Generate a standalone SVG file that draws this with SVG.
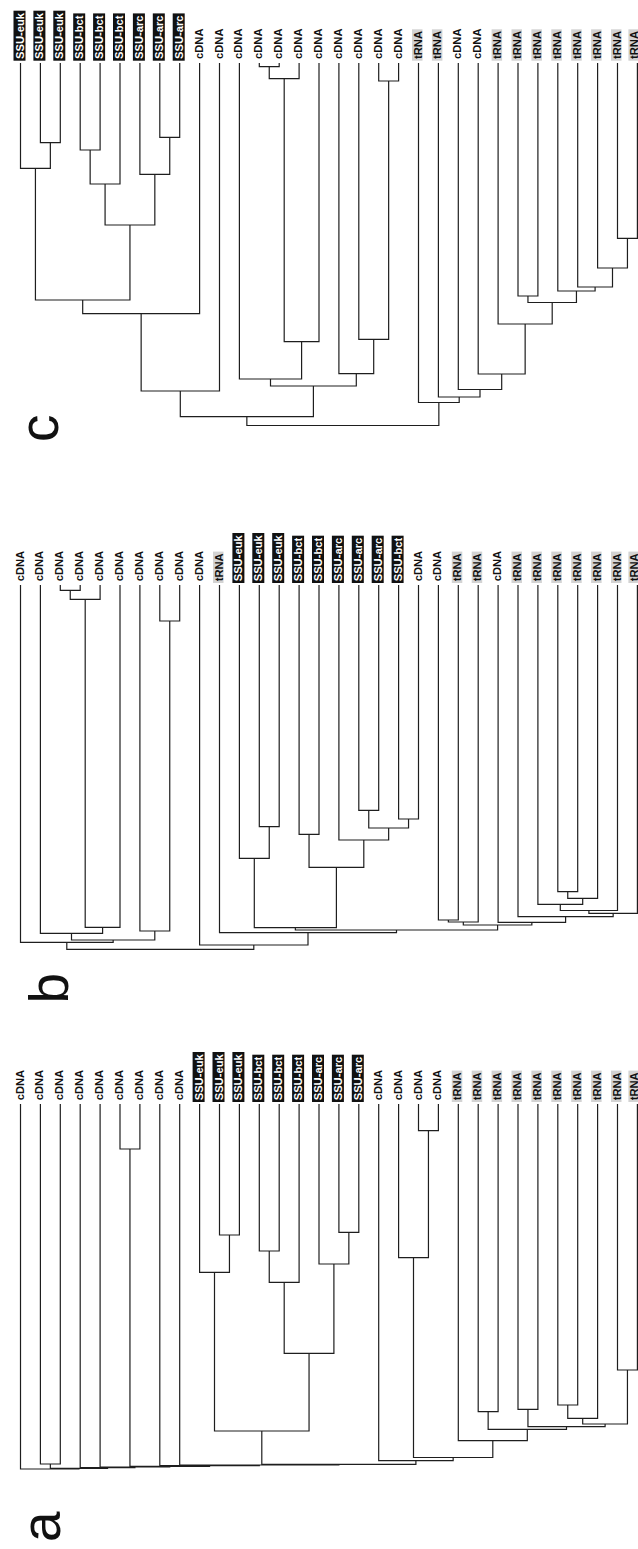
<svg xmlns="http://www.w3.org/2000/svg" width="638" height="1549" viewBox="0 0 638 1549">
<style>
.t{font-family:"Liberation Sans",Arial,sans-serif;font-weight:bold;font-size:11.2px;fill:#111}
.tw{font-family:"Liberation Sans",Arial,sans-serif;font-weight:bold;font-size:11.2px;fill:#fff}
.bk{fill:#111}
.gy{fill:#d3d3d3}
.e{fill:none;stroke:#1e1e1e;stroke-width:1.2}
.pl{font-family:"Liberation Sans",Arial,sans-serif;font-size:55px;fill:#111}
</style>
<rect width="638" height="1549" fill="#fff"/>
<!-- Panel c -->
<g id="panel-c">
<g id="c-n1" transform="translate(23.5 59) rotate(-90)"><rect class="bk" x="-1.7" y="-10" width="50" height="12"/><text class="tw">SSU-euk</text></g>
<g id="c-n2" transform="translate(43.4 59) rotate(-90)"><rect class="bk" x="-1.7" y="-10" width="50" height="12"/><text class="tw">SSU-euk</text></g>
<g id="c-n3" transform="translate(63.3 59) rotate(-90)"><rect class="bk" x="-1.7" y="-10" width="50" height="12"/><text class="tw">SSU-euk</text></g>
<g id="c-n4" transform="translate(83.2 59) rotate(-90)"><rect class="bk" x="-1.7" y="-10" width="47.3" height="12"/><text class="tw">SSU-bct</text></g>
<g id="c-n5" transform="translate(103.1 59) rotate(-90)"><rect class="bk" x="-1.7" y="-10" width="47.3" height="12"/><text class="tw">SSU-bct</text></g>
<g id="c-n6" transform="translate(123 59) rotate(-90)"><rect class="bk" x="-1.7" y="-10" width="47.3" height="12"/><text class="tw">SSU-bct</text></g>
<g id="c-n7" transform="translate(142.9 59) rotate(-90)"><rect class="bk" x="-1.7" y="-10" width="47.3" height="12"/><text class="tw">SSU-arc</text></g>
<g id="c-n8" transform="translate(162.8 59) rotate(-90)"><rect class="bk" x="-1.7" y="-10" width="47.3" height="12"/><text class="tw">SSU-arc</text></g>
<g id="c-n9" transform="translate(182.7 59) rotate(-90)"><rect class="bk" x="-1.7" y="-10" width="47.3" height="12"/><text class="tw">SSU-arc</text></g>
<g id="c-n10" transform="translate(202.6 59) rotate(-90)"><text class="t">cDNA</text></g>
<g id="c-n11" transform="translate(222.5 59) rotate(-90)"><text class="t">cDNA</text></g>
<g id="c-n12" transform="translate(242.4 59) rotate(-90)"><text class="t">cDNA</text></g>
<g id="c-n13" transform="translate(262.3 59) rotate(-90)"><text class="t">cDNA</text></g>
<g id="c-n14" transform="translate(282.2 59) rotate(-90)"><text class="t">cDNA</text></g>
<g id="c-n15" transform="translate(302.1 59) rotate(-90)"><text class="t">cDNA</text></g>
<g id="c-n16" transform="translate(322 59) rotate(-90)"><text class="t">cDNA</text></g>
<g id="c-n17" transform="translate(341.9 59) rotate(-90)"><text class="t">cDNA</text></g>
<g id="c-n18" transform="translate(361.8 59) rotate(-90)"><text class="t">cDNA</text></g>
<g id="c-n19" transform="translate(381.7 59) rotate(-90)"><text class="t">cDNA</text></g>
<g id="c-n20" transform="translate(401.6 59) rotate(-90)"><text class="t">cDNA</text></g>
<g id="c-n21" transform="translate(421.5 59) rotate(-90)"><rect class="gy" x="-1.7" y="-9.5" width="31.4" height="10.5"/><text class="t">tRNA</text></g>
<g id="c-n22" transform="translate(441.4 59) rotate(-90)"><rect class="gy" x="-1.7" y="-9.5" width="31.4" height="10.5"/><text class="t">tRNA</text></g>
<g id="c-n23" transform="translate(461.3 59) rotate(-90)"><text class="t">cDNA</text></g>
<g id="c-n24" transform="translate(481.2 59) rotate(-90)"><text class="t">cDNA</text></g>
<g id="c-n25" transform="translate(501.1 59) rotate(-90)"><rect class="gy" x="-1.7" y="-9.5" width="31.4" height="10.5"/><text class="t">tRNA</text></g>
<g id="c-n26" transform="translate(521 59) rotate(-90)"><rect class="gy" x="-1.7" y="-9.5" width="31.4" height="10.5"/><text class="t">tRNA</text></g>
<g id="c-n27" transform="translate(540.9 59) rotate(-90)"><rect class="gy" x="-1.7" y="-9.5" width="31.4" height="10.5"/><text class="t">tRNA</text></g>
<g id="c-n28" transform="translate(560.8 59) rotate(-90)"><rect class="gy" x="-1.7" y="-9.5" width="31.4" height="10.5"/><text class="t">tRNA</text></g>
<g id="c-n29" transform="translate(580.7 59) rotate(-90)"><rect class="gy" x="-1.7" y="-9.5" width="31.4" height="10.5"/><text class="t">tRNA</text></g>
<g id="c-n30" transform="translate(600.6 59) rotate(-90)"><rect class="gy" x="-1.7" y="-9.5" width="31.4" height="10.5"/><text class="t">tRNA</text></g>
<g id="c-n31" transform="translate(620.5 59) rotate(-90)"><rect class="gy" x="-1.7" y="-9.5" width="31.4" height="10.5"/><text class="t">tRNA</text></g>
<g id="c-n32" transform="translate(637.9 59) rotate(-90)"><rect class="gy" x="-1.7" y="-9.5" width="31.4" height="10.5"/><text class="t">tRNA</text></g>
<text id="c-letter" class="pl" transform="translate(58 442) rotate(-90)">c</text>
</g>
<!-- Panel b -->
<g id="panel-b">
<g id="b-n1" transform="translate(23.5 581.3) rotate(-90)"><text class="t">cDNA</text></g>
<g id="b-n2" transform="translate(43.4 581.3) rotate(-90)"><text class="t">cDNA</text></g>
<g id="b-n3" transform="translate(63.3 581.3) rotate(-90)"><text class="t">cDNA</text></g>
<g id="b-n4" transform="translate(83.2 581.3) rotate(-90)"><text class="t">cDNA</text></g>
<g id="b-n5" transform="translate(103.1 581.3) rotate(-90)"><text class="t">cDNA</text></g>
<g id="b-n6" transform="translate(123 581.3) rotate(-90)"><text class="t">cDNA</text></g>
<g id="b-n7" transform="translate(142.9 581.3) rotate(-90)"><text class="t">cDNA</text></g>
<g id="b-n8" transform="translate(162.8 581.3) rotate(-90)"><text class="t">cDNA</text></g>
<g id="b-n9" transform="translate(182.7 581.3) rotate(-90)"><text class="t">cDNA</text></g>
<g id="b-n10" transform="translate(202.6 581.3) rotate(-90)"><text class="t">cDNA</text></g>
<g id="b-n11" transform="translate(222.5 581.3) rotate(-90)"><rect class="gy" x="-1.7" y="-9.5" width="31.4" height="10.5"/><text class="t">tRNA</text></g>
<g id="b-n12" transform="translate(242.4 581.3) rotate(-90)"><rect class="bk" x="-1.7" y="-10" width="50" height="12"/><text class="tw">SSU-euk</text></g>
<g id="b-n13" transform="translate(262.3 581.3) rotate(-90)"><rect class="bk" x="-1.7" y="-10" width="50" height="12"/><text class="tw">SSU-euk</text></g>
<g id="b-n14" transform="translate(282.2 581.3) rotate(-90)"><rect class="bk" x="-1.7" y="-10" width="50" height="12"/><text class="tw">SSU-euk</text></g>
<g id="b-n15" transform="translate(302.1 581.3) rotate(-90)"><rect class="bk" x="-1.7" y="-10" width="47.3" height="12"/><text class="tw">SSU-bct</text></g>
<g id="b-n16" transform="translate(322 581.3) rotate(-90)"><rect class="bk" x="-1.7" y="-10" width="47.3" height="12"/><text class="tw">SSU-bct</text></g>
<g id="b-n17" transform="translate(341.9 581.3) rotate(-90)"><rect class="bk" x="-1.7" y="-10" width="47.3" height="12"/><text class="tw">SSU-arc</text></g>
<g id="b-n18" transform="translate(361.8 581.3) rotate(-90)"><rect class="bk" x="-1.7" y="-10" width="47.3" height="12"/><text class="tw">SSU-arc</text></g>
<g id="b-n19" transform="translate(381.7 581.3) rotate(-90)"><rect class="bk" x="-1.7" y="-10" width="47.3" height="12"/><text class="tw">SSU-arc</text></g>
<g id="b-n20" transform="translate(401.6 581.3) rotate(-90)"><rect class="bk" x="-1.7" y="-10" width="47.3" height="12"/><text class="tw">SSU-bct</text></g>
<g id="b-n21" transform="translate(421.5 581.3) rotate(-90)"><text class="t">cDNA</text></g>
<g id="b-n22" transform="translate(441.4 581.3) rotate(-90)"><text class="t">cDNA</text></g>
<g id="b-n23" transform="translate(461.3 581.3) rotate(-90)"><rect class="gy" x="-1.7" y="-9.5" width="31.4" height="10.5"/><text class="t">tRNA</text></g>
<g id="b-n24" transform="translate(481.2 581.3) rotate(-90)"><rect class="gy" x="-1.7" y="-9.5" width="31.4" height="10.5"/><text class="t">tRNA</text></g>
<g id="b-n25" transform="translate(501.1 581.3) rotate(-90)"><text class="t">cDNA</text></g>
<g id="b-n26" transform="translate(521 581.3) rotate(-90)"><rect class="gy" x="-1.7" y="-9.5" width="31.4" height="10.5"/><text class="t">tRNA</text></g>
<g id="b-n27" transform="translate(540.9 581.3) rotate(-90)"><rect class="gy" x="-1.7" y="-9.5" width="31.4" height="10.5"/><text class="t">tRNA</text></g>
<g id="b-n28" transform="translate(560.8 581.3) rotate(-90)"><rect class="gy" x="-1.7" y="-9.5" width="31.4" height="10.5"/><text class="t">tRNA</text></g>
<g id="b-n29" transform="translate(580.7 581.3) rotate(-90)"><rect class="gy" x="-1.7" y="-9.5" width="31.4" height="10.5"/><text class="t">tRNA</text></g>
<g id="b-n30" transform="translate(600.6 581.3) rotate(-90)"><rect class="gy" x="-1.7" y="-9.5" width="31.4" height="10.5"/><text class="t">tRNA</text></g>
<g id="b-n31" transform="translate(620.5 581.3) rotate(-90)"><rect class="gy" x="-1.7" y="-9.5" width="31.4" height="10.5"/><text class="t">tRNA</text></g>
<g id="b-n32" transform="translate(637.9 581.3) rotate(-90)"><rect class="gy" x="-1.7" y="-9.5" width="31.4" height="10.5"/><text class="t">tRNA</text></g>
<text id="b-letter" class="pl" transform="translate(68 1003.5) rotate(-90)">b</text>
</g>
<!-- Panel a -->
<g id="panel-a">
<g id="a-n1" transform="translate(23.5 1100.3) rotate(-90)"><text class="t">cDNA</text></g>
<g id="a-n2" transform="translate(43.4 1100.3) rotate(-90)"><text class="t">cDNA</text></g>
<g id="a-n3" transform="translate(63.3 1100.3) rotate(-90)"><text class="t">cDNA</text></g>
<g id="a-n4" transform="translate(83.2 1100.3) rotate(-90)"><text class="t">cDNA</text></g>
<g id="a-n5" transform="translate(103.1 1100.3) rotate(-90)"><text class="t">cDNA</text></g>
<g id="a-n6" transform="translate(123 1100.3) rotate(-90)"><text class="t">cDNA</text></g>
<g id="a-n7" transform="translate(142.9 1100.3) rotate(-90)"><text class="t">cDNA</text></g>
<g id="a-n8" transform="translate(162.8 1100.3) rotate(-90)"><text class="t">cDNA</text></g>
<g id="a-n9" transform="translate(182.7 1100.3) rotate(-90)"><text class="t">cDNA</text></g>
<g id="a-n10" transform="translate(202.6 1100.3) rotate(-90)"><rect class="bk" x="-1.7" y="-10" width="50" height="12"/><text class="tw">SSU-euk</text></g>
<g id="a-n11" transform="translate(222.5 1100.3) rotate(-90)"><rect class="bk" x="-1.7" y="-10" width="50" height="12"/><text class="tw">SSU-euk</text></g>
<g id="a-n12" transform="translate(242.4 1100.3) rotate(-90)"><rect class="bk" x="-1.7" y="-10" width="50" height="12"/><text class="tw">SSU-euk</text></g>
<g id="a-n13" transform="translate(262.3 1100.3) rotate(-90)"><rect class="bk" x="-1.7" y="-10" width="47.3" height="12"/><text class="tw">SSU-bct</text></g>
<g id="a-n14" transform="translate(282.2 1100.3) rotate(-90)"><rect class="bk" x="-1.7" y="-10" width="47.3" height="12"/><text class="tw">SSU-bct</text></g>
<g id="a-n15" transform="translate(302.1 1100.3) rotate(-90)"><rect class="bk" x="-1.7" y="-10" width="47.3" height="12"/><text class="tw">SSU-bct</text></g>
<g id="a-n16" transform="translate(322 1100.3) rotate(-90)"><rect class="bk" x="-1.7" y="-10" width="47.3" height="12"/><text class="tw">SSU-arc</text></g>
<g id="a-n17" transform="translate(341.9 1100.3) rotate(-90)"><rect class="bk" x="-1.7" y="-10" width="47.3" height="12"/><text class="tw">SSU-arc</text></g>
<g id="a-n18" transform="translate(361.8 1100.3) rotate(-90)"><rect class="bk" x="-1.7" y="-10" width="47.3" height="12"/><text class="tw">SSU-arc</text></g>
<g id="a-n19" transform="translate(381.7 1100.3) rotate(-90)"><text class="t">cDNA</text></g>
<g id="a-n20" transform="translate(401.6 1100.3) rotate(-90)"><text class="t">cDNA</text></g>
<g id="a-n21" transform="translate(421.5 1100.3) rotate(-90)"><text class="t">cDNA</text></g>
<g id="a-n22" transform="translate(441.4 1100.3) rotate(-90)"><text class="t">cDNA</text></g>
<g id="a-n23" transform="translate(461.3 1100.3) rotate(-90)"><rect class="gy" x="-1.7" y="-9.5" width="31.4" height="10.5"/><text class="t">tRNA</text></g>
<g id="a-n24" transform="translate(481.2 1100.3) rotate(-90)"><rect class="gy" x="-1.7" y="-9.5" width="31.4" height="10.5"/><text class="t">tRNA</text></g>
<g id="a-n25" transform="translate(501.1 1100.3) rotate(-90)"><rect class="gy" x="-1.7" y="-9.5" width="31.4" height="10.5"/><text class="t">tRNA</text></g>
<g id="a-n26" transform="translate(521 1100.3) rotate(-90)"><rect class="gy" x="-1.7" y="-9.5" width="31.4" height="10.5"/><text class="t">tRNA</text></g>
<g id="a-n27" transform="translate(540.9 1100.3) rotate(-90)"><rect class="gy" x="-1.7" y="-9.5" width="31.4" height="10.5"/><text class="t">tRNA</text></g>
<g id="a-n28" transform="translate(560.8 1100.3) rotate(-90)"><rect class="gy" x="-1.7" y="-9.5" width="31.4" height="10.5"/><text class="t">tRNA</text></g>
<g id="a-n29" transform="translate(580.7 1100.3) rotate(-90)"><rect class="gy" x="-1.7" y="-9.5" width="31.4" height="10.5"/><text class="t">tRNA</text></g>
<g id="a-n30" transform="translate(600.6 1100.3) rotate(-90)"><rect class="gy" x="-1.7" y="-9.5" width="31.4" height="10.5"/><text class="t">tRNA</text></g>
<g id="a-n31" transform="translate(620.5 1100.3) rotate(-90)"><rect class="gy" x="-1.7" y="-9.5" width="31.4" height="10.5"/><text class="t">tRNA</text></g>
<g id="a-n32" transform="translate(637.9 1100.3) rotate(-90)"><rect class="gy" x="-1.7" y="-9.5" width="31.4" height="10.5"/><text class="t">tRNA</text></g>
<text id="a-letter" class="pl" transform="translate(59.5 1542) rotate(-90)">a</text>
</g>
<!-- Connectors -->
<g id="connectors" class="e">
<path d="M40.4 63V142.7H60.3V63"/>
<path d="M20.5 63V168.3H50.35V142.7"/>
<path d="M80.2 63V150H100.1V63"/>
<path d="M90.15 150V184H120V63"/>
<path d="M159.8 63V137.3H179.7V63"/>
<path d="M139.9 63V174.3H169.75V137.3"/>
<path d="M105.08 184V225H154.83V174.3"/>
<path d="M35.43 168.3V300H129.95V225"/>
<path d="M82.69 300V313.7H199.6V63"/>
<path d="M141.15 313.7V391H219.5V63"/>
<path d="M259.3 63V66.7H279.2V63"/>
<path d="M269.25 66.7V78.7H299.1V63"/>
<path d="M284.2 78.7V341.7H319V63"/>
<path d="M239.4 63V379H301.6V341.7"/>
<path d="M378.7 63V81H398.6V63"/>
<path d="M358.8 63V339.3H388.65V81"/>
<path d="M338.9 63V373.7H373.7V339.3"/>
<path d="M270.5 379V386H356.3V373.7"/>
<path d="M180.3 391V416.7H313.4V386"/>
<path d="M617.5 63V238.3H637.4V63"/>
<path d="M597.6 63V268H627.45V238.3"/>
<path d="M577.7 63V287H612.5V268"/>
<path d="M557.8 63V291H595.1V287"/>
<path d="M518 63V296H537.9V63"/>
<path d="M527.95 296V302.5H576.45V291"/>
<path d="M498.1 63V324H552.2V302.5"/>
<path d="M478.2 63V374H525.15V324"/>
<path d="M458.3 63V389.5H501.7V374"/>
<path d="M438.4 63V397H480V389.5"/>
<path d="M418.5 63V402.5H459.2V397"/>
<path d="M246.85 416.7V425.5H438.85V402.5"/>

<path d="M60.3 585V590.3H80.2V585"/>
<path d="M70.25 590.3V599.3H100.1V585"/>
<path d="M85.2 599.3V927.3H120V585"/>
<path d="M159.8 585V621H179.7V585"/>
<path d="M139.9 585V931H169.75V621"/>
<path d="M40.4 585V933.3H102.6V927.3"/>
<path d="M71.5 933.3V940H154.8V931"/>
<path d="M20.5 585V942.3H113.15V940"/>
<path d="M259.3 585V826.7H279.2V585"/>
<path d="M239.4 585V858.3H269.25V826.7"/>
<path d="M299.1 585V834.3H319V585"/>
<path d="M358.8 585V810.3H378.7V585"/>
<path d="M398.6 585V819H418.5V585"/>
<path d="M368.75 810.3V828H408.55V819"/>
<path d="M338.9 585V840H388.65V828"/>
<path d="M309.05 834.3V867.3H363.8V840"/>
<path d="M254.3 858.3V927.7H336.4V867.3"/>
<path d="M557.8 585V891.7H577.7V585"/>
<path d="M567.75 891.7V898.3H597.6V585"/>
<path d="M537.9 585V904.3H582.7V898.3"/>
<path d="M560.3 904.3V910.5H617.5V585"/>
<path d="M588.9 910.5V913.3H637.4V585"/>
<path d="M518 585V916.7H613.15V913.3"/>
<path d="M498.1 585V922.3H565.6V916.7"/>
<path d="M438.4 585V920H458.3V585"/>
<path d="M448.35 920V922H478.2V585"/>
<path d="M463.3 922V925H531.85V922.3"/>
<path d="M295.35 927.7V930H497.6V925"/>
<path d="M219.5 585V932.7H396.5V930"/>
<path d="M199.6 585V945H308V932.7"/>
<path d="M66.8 942.3V949.3H253.8V945"/>

<path d="M120 1104V1149H139.9V1104"/>
<path d="M40.4 1104V1464H60.3V1104"/>
<path d="M219.5 1104V1235H239.4V1104"/>
<path d="M199.6 1104V1272.3H229.45V1235"/>
<path d="M259.3 1104V1251H279.2V1104"/>
<path d="M269.25 1251V1282.3H299.1V1104"/>
<path d="M338.9 1104V1232.3H358.8V1104"/>
<path d="M319 1104V1264H348.85V1232.3"/>
<path d="M284.2 1282.3V1353.3H333.9V1264"/>
<path d="M214.5 1272.3V1431H309.05V1353.3"/>
<path d="M418.5 1104V1130.7H438.4V1104"/>
<path d="M398.6 1104V1257.7H428.45V1130.7"/>
<path d="M478.2 1104V1411.7H498.1V1104"/>
<path d="M518 1104V1409.3H537.9V1104"/>
<path d="M557.8 1104V1405H577.7V1104"/>
<path d="M567.75 1405V1418.3H597.6V1104"/>
<path d="M617.5 1104V1370H637.4V1104"/>
<path d="M582.7 1418.3V1424H627.45V1370"/>
<path d="M527.95 1409.3V1426.7H605.1V1424"/>
<path d="M488.15 1411.7V1429.3H566.5V1426.7"/>
<path d="M458.3 1104V1440.7H527.3V1429.3"/>
<path d="M413.5 1257.7V1457.5H492.8V1440.7"/>
<path d="M378.7 1104V1460.7H453.15V1457.5"/>
<path d="M261.8 1431V1464.3H415.9V1460.7"/>
<path d="M179.7 1104V1465H338.85V1464.3"/>
<path d="M159.8 1104V1465.7H259.3V1465"/>
<path d="M129.95 1149V1466.3H209.55V1465.7"/>
<path d="M100.1 1104V1467H169.75V1466.3"/>
<path d="M80.2 1104V1467.7H134.9V1467"/>
<path d="M50.35 1464V1468.3H107.55V1467.7"/>
<path d="M20.5 1104V1469H78.95V1468.3"/>
</g>
</svg>
